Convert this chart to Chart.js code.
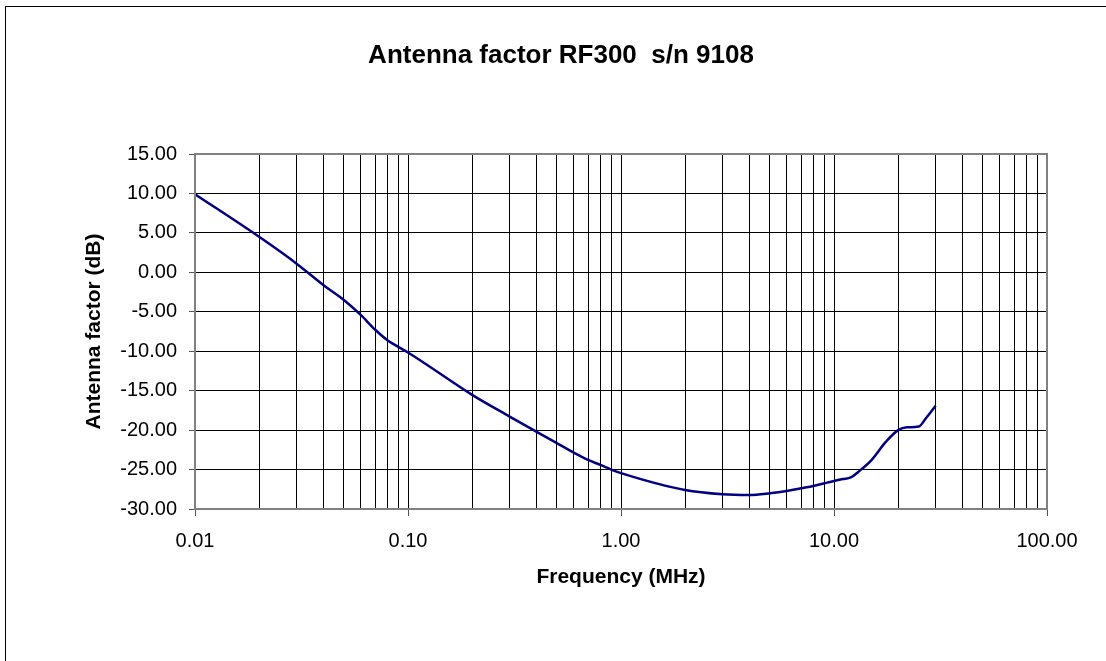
<!DOCTYPE html>
<html>
<head>
<meta charset="utf-8">
<script src="https://cdn.jsdelivr.net/npm/chart.js@4"></script>
<style>
  html, body { margin: 0; padding: 0; background: #fff; }
  #wrap { width: 1106px; height: 661px; }
</style>
</head>
<body>
<div id="wrap"><canvas id="afChart"></canvas></div>
<script>
// Frequency (MHz) and antenna factor (dB)
const freqs = [0.01, 0.02, 0.03, 0.04, 0.05, 0.06, 0.07, 0.08, 0.09, 0.1,
  0.2, 0.3, 0.4, 0.5, 0.6, 0.7, 0.8, 0.9, 1, 2, 3, 4, 5, 6, 7, 8, 9, 10,
  11, 12, 13, 15, 17.5, 20, 22, 25, 27, 30];
const antennaFactor = [9.9, 4.5, 1.1, -1.6, -3.5, -5.4, -7.25, -8.6, -9.45, -10.16,
  -15.53, -18.28, -20.19, -21.66, -22.85, -23.78, -24.41, -25.0, -25.45, -27.59, -28.13, -28.22, -28.0, -27.71, -27.37, -27.08, -26.74, -26.44,
  -26.2, -26.0, -25.3, -23.8, -21.5, -20.0, -19.65, -19.55, -18.5, -16.9];
const xDecades = [0.01, 0.1, 1, 10, 100];
const yTicks = [-30, -25, -20, -15, -10, -5, 0, 5, 10, 15];
const chartTitle = 'Antenna factor RF300  s/n 9108';

const FONT = 'Liberation Sans, Arial, sans-serif';
const isDecade = v => xDecades.some(d => Math.abs(v - d) / d < 1e-6);

// frame round the whole picture, grey box round the plot area, and the title
const frames = {
  id: 'frames',
  afterDraw(chart) {
    const ctx = chart.ctx;
    const a = chart.chartArea;
    ctx.save();
    ctx.strokeStyle = '#000';
    ctx.lineWidth = 1;
    ctx.strokeRect(5.5, 6.5, 1110, 670);
    ctx.strokeStyle = '#808080';
    ctx.lineWidth = 2;
    ctx.strokeRect(a.left, a.top, a.right - a.left, a.bottom - a.top);
    ctx.fillStyle = '#000';
    ctx.font = 'bold 26px ' + FONT;
    ctx.textAlign = 'center';
    ctx.textBaseline = 'middle';
    ctx.fillText(chartTitle, 561, 56);
    ctx.restore();
  }
};

new Chart(document.getElementById('afChart'), {
  type: 'line',
  data: {
    datasets: [{
      data: freqs.map((f, i) => ({ x: f, y: antennaFactor[i] })),
      borderColor: '#000080',
      borderWidth: 2.5,
      pointRadius: 0,
      fill: false,
      cubicInterpolationMode: 'monotone'
    }]
  },
  options: {
    responsive: true,
    maintainAspectRatio: false,
    animation: false,
    layout: { padding: { left: 0, right: 59, top: 154, bottom: 0 } },
    plugins: {
      legend: { display: false },
      tooltip: { enabled: false },
      title: { display: false }
    },
    scales: {
      x: {
        type: 'logarithmic',
        min: 0.01,
        max: 100,
        afterBuildTicks(scale) {
          const t = [];
          xDecades.forEach((d, i) => {
            if (i === xDecades.length - 1) { t.push({ value: d }); return; }
            for (let k = 1; k <= 9; k++) t.push({ value: +(d * k).toPrecision(6) });
          });
          scale.ticks = t;
        },
        afterFit(scale) { scale.height = 152; },
        ticks: {
          autoSkip: false,
          maxRotation: 0,
          padding: 13,
          color: '#000',
          font: { family: FONT, size: 20 },
          callback: v => isDecade(v) ? v.toFixed(2) : ''
        },
        grid: {
          color: '#000',
          lineWidth: 1,
          tickLength: 7,
          tickColor: ctx => (ctx.tick && isDecade(ctx.tick.value)) ? '#555' : 'rgba(0,0,0,0)'
        },
        border: { color: '#808080', width: 2 },
        title: {
          display: true,
          text: 'Frequency (MHz)',
          color: '#000',
          font: { family: FONT, size: 21, weight: 'bold' },
          padding: { top: 0, bottom: 71 }
        }
      },
      y: {
        min: -30,
        max: 15,
        afterBuildTicks(scale) { scale.ticks = yTicks.map(v => ({ value: v })); },
        afterFit(scale) { scale.width = 195; },
        ticks: {
          padding: 12,
          color: '#000',
          font: { family: FONT, size: 20 },
          callback: v => v.toFixed(2)
        },
        grid: { color: '#000', lineWidth: 1, tickLength: 6, tickColor: '#555' },
        border: { color: '#808080', width: 2 },
        title: {
          display: true,
          text: 'Antenna factor (dB)',
          color: '#000',
          font: { family: FONT, size: 21, weight: 'bold' },
          padding: { top: 82, bottom: 0 }
        }
      }
    }
  },
  plugins: [frames]
});
</script>
</body>
</html>
